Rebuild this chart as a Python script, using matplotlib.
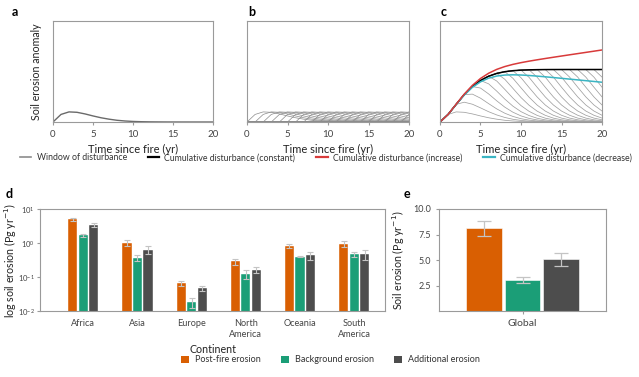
import numpy as np
import matplotlib as mpl
mpl.use("Agg")
import matplotlib.pyplot as plt
from matplotlib.lines import Line2D
from matplotlib.patches import Patch

mpl.rcParams.update({
    "font.family": ["Lato", "DejaVu Sans"],
    "font.size": 6.5,
    "axes.edgecolor": "#9a9a9a",
    "axes.linewidth": 0.8,
    "xtick.color": "#9a9a9a",
    "ytick.color": "#9a9a9a",
    "xtick.labelcolor": "#444444",
    "ytick.labelcolor": "#444444",
    "xtick.labelsize": 7,
    "ytick.labelsize": 6.5,
    "xtick.major.size": 2.5,
    "ytick.major.size": 2.5,
    "axes.labelcolor": "#222222",
})

# ---------------- data: panels a-c ----------------
# single post-fire erosion pulse, read once per year from 0 to 20 yr (axis fraction)
PULSE = [0.000, 0.075, 0.100, 0.096, 0.080, 0.060, 0.042, 0.028, 0.017, 0.010,
         0.0055, 0.0030, 0.0016, 0.0009, 0.0004, 0.0002, 0.0001, 0.0, 0.0, 0.0, 0.0]
TIME = np.arange(len(PULSE))
N_WINDOWS = 20
# amplitude of each yearly disturbance window
W_INCREASE = [1.000, 1.023, 1.046, 1.069, 1.092, 1.115, 1.138, 1.161, 1.184, 1.207,
              1.230, 1.253, 1.276, 1.299, 1.322, 1.345, 1.368, 1.391, 1.414, 1.437]
W_DECREASE = [1.000, 0.985, 0.970, 0.955, 0.940, 0.925, 0.910, 0.895, 0.880, 0.865,
              0.850, 0.835, 0.820, 0.805, 0.790, 0.775, 0.760, 0.745, 0.730, 0.715]

# ---------------- data: panels d-e ----------------
CONTINENTS = ["Africa", "Asia", "Europe", "North\nAmerica", "Oceania", "South\nAmerica"]
POST = [5.0, 1.0, 0.065, 0.29, 0.84, 0.93]
POST_ERR = [0.6, 0.2, 0.012, 0.06, 0.11, 0.18]
BACK = [1.7, 0.37, 0.018, 0.125, 0.40, 0.47]
BACK_ERR = [0.15, 0.08, 0.006, 0.035, 0.02, 0.09]
ADD = [3.4, 0.63, 0.047, 0.165, 0.43, 0.47]
ADD_ERR = [0.45, 0.17, 0.009, 0.035, 0.11, 0.16]

GLOBAL = [8.1, 3.05, 5.05]
GLOBAL_ERR = [0.75, 0.3, 0.6]

SERIES = ["Post-fire erosion", "Background erosion", "Additional erosion"]
COLORS = ["#d95f02", "#1b9e77", "#4d4d4d"]
ERR_COLOR = "#c4c4c4"
GRAY_LINE = "#a0a0a0"
RED = "#d83a3a"
CYAN = "#3bb5c3"

pulse = np.array(PULSE)


def window(j, amp=1.0):
    out = np.zeros_like(pulse)
    out[j:] = pulse[:len(pulse) - j]
    return out * amp


fig = plt.figure(figsize=(6.39, 3.77), dpi=100)
W, H = 639, 377


def add_ax(x0, x1, y0, y1):
    return fig.add_axes([x0 / W, 1 - y1 / H, (x1 - x0) / W, (y1 - y0) / H])


ax_a = add_ax(53, 213, 21, 122)
ax_b = add_ax(247, 409, 21, 122)
ax_c = add_ax(440, 602, 21, 122)

# a: one window
ax_a.plot(TIME, pulse, color="#6a6a6a", lw=1.0)
ax_a.set_ylabel("Soil erosion anomaly", fontsize=7.7)
ax_a.yaxis.set_label_coords(-0.07, 0.5)

# b: all windows
for j in range(N_WINDOWS):
    ax_b.plot(TIME, window(j), color="#8c8c8c", lw=0.5)

# c: cumulative disturbance
partial = np.zeros_like(pulse)
for j in range(N_WINDOWS):
    partial = partial + window(j)
    ax_c.plot(TIME, partial, color=GRAY_LINE, lw=0.55)
ax_c.plot(TIME, partial, color="black", lw=1.1)
dec = sum(window(j, W_DECREASE[j]) for j in range(N_WINDOWS))
inc = sum(window(j, W_INCREASE[j]) for j in range(N_WINDOWS))
ax_c.plot(TIME, dec, color=CYAN, lw=1.1)
ax_c.plot(TIME, inc, color=RED, lw=1.1)

for ax in (ax_a, ax_b, ax_c):
    ax.set_xlim(0, 20)
    ax.set_ylim(0, 1)
    ax.set_xticks([0, 5, 10, 15, 20])
    ax.set_yticks([])
    ax.set_xlabel("Time since fire (yr)", fontsize=8, labelpad=3)

fig.text(12 / W, 1 - 12 / H, "a", fontsize=9, fontweight="bold", va="center")
fig.text(248 / W, 1 - 12 / H, "b", fontsize=9, fontweight="bold", va="center")
fig.text(441 / W, 1 - 12 / H, "c", fontsize=9, fontweight="bold", va="center")

handles = [Line2D([], [], color="#8c8c8c", lw=1.2),
           Line2D([], [], color="black", lw=1.6),
           Line2D([], [], color=RED, lw=1.6),
           Line2D([], [], color=CYAN, lw=1.6)]
labels = ["Window of disturbance", "Cumulative disturbance (constant)",
          "Cumulative disturbance (increase)", "Cumulative disturbance (decrease)"]
fig.legend(handles, labels, loc="center", bbox_to_anchor=(0.51, 1 - 158 / H), ncol=4,
           frameon=False, fontsize=6.3, handlelength=1.3, columnspacing=2.4,
           handletextpad=0.6, labelcolor="#333333")

# d: continents, log scale
ax_d = add_ax(40, 385, 209, 311)
x = np.arange(len(CONTINENTS))
off = 0.194
bw = 0.17
err_kw = dict(ecolor=ERR_COLOR, elinewidth=0.8, capsize=2, capthick=0.8)
for k, (vals, errs) in enumerate([(POST, POST_ERR), (BACK, BACK_ERR), (ADD, ADD_ERR)]):
    ax_d.bar(x + (k - 1) * off, vals, bw, yerr=errs, color=COLORS[k],
             edgecolor="white", linewidth=0.3, error_kw=err_kw, zorder=2)
ax_d.set_yscale("log")
ax_d.set_ylim(1e-2, 1e1)
ax_d.set_xlim(-0.8, 5.57)
ax_d.set_xticks(x)
ax_d.set_xticklabels(CONTINENTS, fontsize=6.6)
ax_d.tick_params(axis="x", length=0, pad=6)
ax_d.tick_params(axis="y", which="minor", length=0)
ax_d.tick_params(axis="y", which="major", labelsize=5.5, pad=1.5, length=2)
ax_d.set_xlabel("Continent", fontsize=7.7, labelpad=4)
ax_d.set_ylabel("log soil erosion (Pg yr$^{-1}$)", fontsize=7.7)
ax_d.yaxis.set_label_coords(-0.064, 0.5)

# e: global, linear scale
ax_e = add_ax(439, 606, 209, 311)
xe = np.array([-1, 0, 1])
ax_e.bar(xe, GLOBAL, 0.92, yerr=GLOBAL_ERR, color=COLORS, edgecolor="white",
         linewidth=0.4, error_kw=dict(ecolor=ERR_COLOR, elinewidth=0.9, capsize=5, capthick=0.9),
         zorder=2)
ax_e.set_xlim(-2.16, 2.16)
ax_e.set_ylim(0, 10)
ax_e.set_yticks([2.5, 5.0, 7.5, 10.0])
ax_e.set_yticklabels(["2.5", "5.0", "7.5", "10.0"])
ax_e.set_xticks([0])
ax_e.set_xticklabels(["Global"], fontsize=7.5)
ax_e.set_ylabel("Soil erosion (Pg yr$^{-1}$)", fontsize=7.7)
ax_e.yaxis.set_label_coords(-0.2, 0.5)

fig.text(6 / W, 1 - 194 / H, "d", fontsize=9, fontweight="bold", va="center")
fig.text(404 / W, 1 - 194 / H, "e", fontsize=9, fontweight="bold", va="center")

patches = [Patch(facecolor=c, edgecolor="none") for c in COLORS]
fig.legend(patches, SERIES, loc="center", bbox_to_anchor=(0.517, 1 - 360 / H), ncol=3,
           frameon=False, fontsize=6.5, handlelength=0.9, handleheight=0.9,
           columnspacing=2.2, handletextpad=0.7, labelcolor="#333333")

fig.savefig("out.png", dpi=100)
